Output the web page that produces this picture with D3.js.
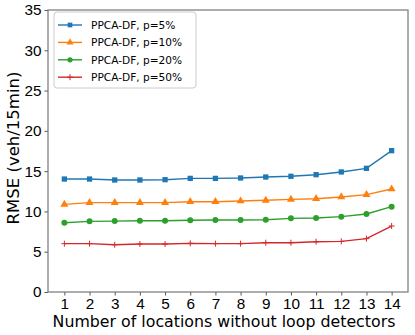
<!DOCTYPE html>
<html>
<head>
<meta charset="utf-8">
<script src="https://cdn.jsdelivr.net/npm/d3@7"></script>
<style>
body { margin: 0; background: #fff; }
svg { font-family: "DejaVu Sans", sans-serif; }
</style>
</head>
<body>
<script>
const width = 415;
const height = 335;
const margin = {left: 48, right: 7, top: 10, bottom: 43};

const locations = [1, 2, 3, 4, 5, 6, 7, 8, 9, 10, 11, 12, 13, 14];
const yTicks = [0, 5, 10, 15, 20, 25, 30, 35];
const seriesNames = ["PPCA-DF, p=5%", "PPCA-DF, p=10%", "PPCA-DF, p=20%", "PPCA-DF, p=50%"];
const p5 = [14.02, 14.02, 13.9, 13.9, 13.94, 14.1, 14.1, 14.15, 14.27, 14.36, 14.56, 14.9, 15.35, 17.54];
const p10 = [10.88, 11.09, 11.09, 11.09, 11.09, 11.2, 11.2, 11.29, 11.38, 11.5, 11.58, 11.79, 12.08, 12.78];
const p20 = [8.6, 8.77, 8.8, 8.85, 8.85, 8.9, 8.94, 8.94, 8.97, 9.14, 9.18, 9.35, 9.68, 10.59];
const p50 = [6.0, 6.0, 5.87, 5.95, 5.95, 6.04, 6.0, 6.0, 6.12, 6.12, 6.24, 6.28, 6.62, 8.19];

const colors = ["#1f77b4", "#ff7f0e", "#2ca02c", "#d62728"];
const symbols = [d3.symbolSquare, d3.symbolTriangle, d3.symbolCircle, null];
const allSeries = [p5, p10, p20, p50];

const svg = d3.select("body").append("svg")
    .attr("width", width)
    .attr("height", height);

const plotW = width - margin.left - margin.right;
const plotH = height - margin.top - margin.bottom;

const x = d3.scaleLinear().domain([0.35, 14.65]).range([0, plotW]);
const y = d3.scaleLinear().domain([0, 35]).range([plotH, 0]);

const g = svg.append("g")
    .attr("transform", "translate(" + margin.left + "," + margin.top + ")");

// axes
const xAxis = g.append("g")
    .attr("transform", "translate(0," + plotH + ")")
    .call(d3.axisBottom(x).tickValues(locations).tickSize(3.5).tickPadding(3).tickSizeOuter(0));
const yAxis = g.append("g")
    .call(d3.axisLeft(y).tickValues(yTicks).tickSize(3.5).tickPadding(3).tickSizeOuter(0));

[xAxis, yAxis].forEach(a => {
    a.selectAll("text").style("font-size", "15.3px").attr("fill", "#000");
    a.selectAll("line").attr("stroke", "#555");
    a.select(".domain").remove();
});

// frame
g.append("rect")
    .attr("width", plotW)
    .attr("height", plotH)
    .attr("fill", "none")
    .attr("stroke", "#777")
    .attr("stroke-width", 1.2);

const line = d3.line()
    .x((d, i) => x(locations[i]))
    .y(d => y(d));

// plus marker path, used for p=50%
function plus(cx, cy) {
    return "M" + (cx - 3) + "," + cy + "H" + (cx + 3) + "M" + cx + "," + (cy - 3) + "V" + (cy + 3);
}

allSeries.forEach((vals, k) => {
    g.append("path")
        .datum(vals)
        .attr("fill", "none")
        .attr("stroke", colors[k])
        .attr("stroke-width", 1.4)
        .attr("d", line);
    if (k < 3) {
        g.selectAll(".m" + k)
            .data(vals)
            .enter()
            .append("path")
            .attr("class", "m" + k)
            .attr("transform", (d, i) => "translate(" + x(locations[i]) + "," + y(d) + ")")
            .attr("d", d3.symbol().type(symbols[k]).size(28))
            .attr("fill", colors[k]);
    } else {
        g.selectAll(".m" + k)
            .data(vals)
            .enter()
            .append("path")
            .attr("class", "m" + k)
            .attr("d", (d, i) => plus(x(locations[i]), y(d)))
            .attr("stroke", colors[k])
            .attr("stroke-width", 1);
    }
});

// legend
const leg = g.append("g").attr("transform", "translate(6,2)");
leg.append("rect")
    .attr("width", 142)
    .attr("height", 76)
    .attr("rx", 3)
    .attr("fill", "#fff")
    .attr("fill-opacity", 0.8)
    .attr("stroke", "#ccc");
seriesNames.forEach((name, k) => {
    const ly = 13 + k * 17.4;
    leg.append("line")
        .attr("x1", 4).attr("x2", 28)
        .attr("y1", ly).attr("y2", ly)
        .attr("stroke", colors[k])
        .attr("stroke-width", 1.4);
    if (k < 3) {
        leg.append("path")
            .attr("transform", "translate(16," + ly + ")")
            .attr("d", d3.symbol().type(symbols[k]).size(22))
            .attr("fill", colors[k]);
    } else {
        leg.append("path")
            .attr("d", plus(16, ly))
            .attr("stroke", colors[k]);
    }
    leg.append("text")
        .attr("x", 37)
        .attr("y", ly)
        .attr("dy", "0.35em")
        .style("font-size", "10.6px")
        .text(name);
});

// axis labels
svg.append("text")
    .attr("x", 224)
    .attr("y", 327)
    .attr("text-anchor", "middle")
    .style("font-size", "15.8px")
    .text("Number of locations without loop detectors");

svg.append("text")
    .attr("transform", "translate(19,148) rotate(-90)")
    .attr("text-anchor", "middle")
    .style("font-size", "16.5px")
    .text("RMSE (veh/15min)");
</script>
</body>
</html>
